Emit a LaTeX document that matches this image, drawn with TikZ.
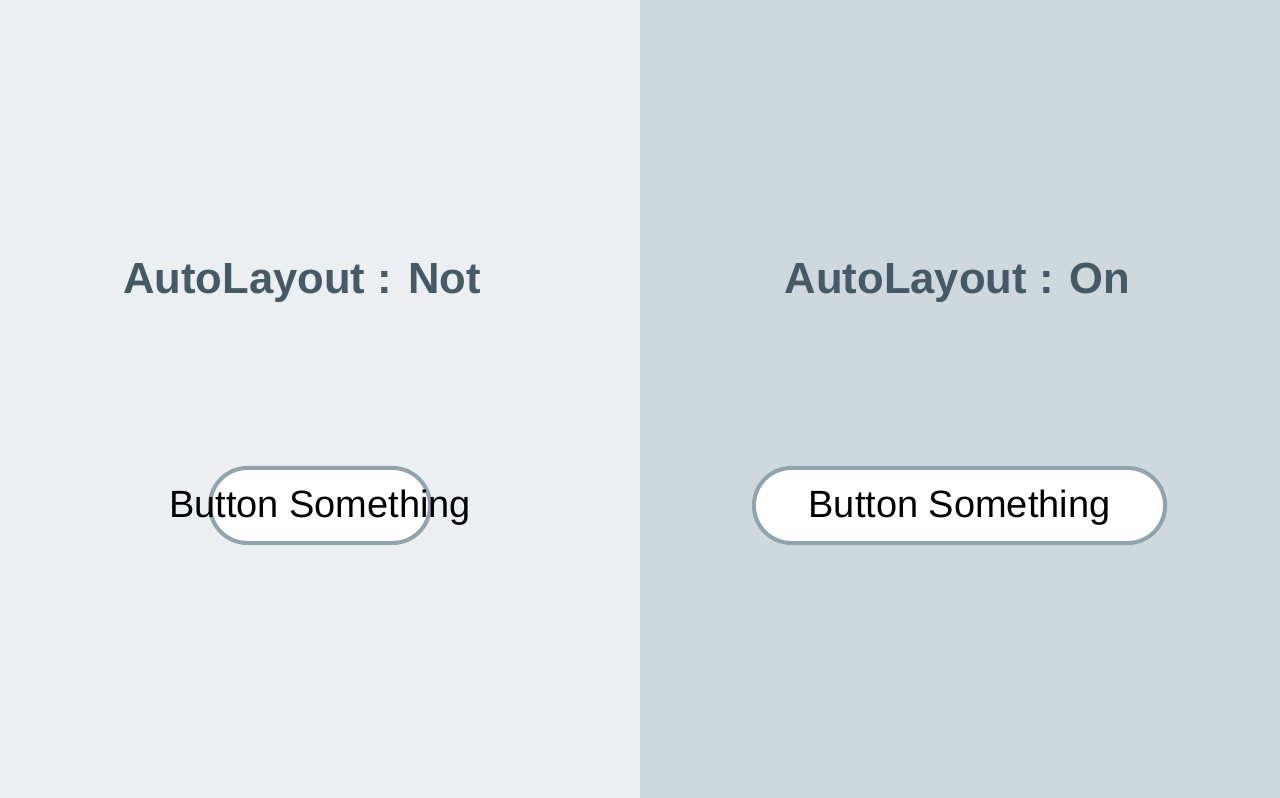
\documentclass[tikz,border=0pt]{standalone}
\usepackage{fontspec}
\setmainfont{Liberation Sans}
\definecolor{leftbg}{HTML}{ECEFF1}
\definecolor{rightbg}{HTML}{CFD8DC}
\definecolor{titlegrey}{HTML}{455A64}
\definecolor{pillline}{HTML}{90A4AE}
\tikzset{
  heading/.style={anchor=base,text=titlegrey,font=\fontsize{12.4}{14}\selectfont\bfseries,inner sep=0pt},
  pill/.style={draw=pillline,fill=white,line width=0.04cm,rounded corners=0.375cm,minimum height=0.75cm,inner sep=0pt},
  label/.style={anchor=base,font=\fontsize{10.8}{12}\selectfont,inner sep=0pt}
}
\begin{document}
\begin{tikzpicture}[x=0.01cm,y=-0.01cm]
        % the two halves
        \fill[leftbg] (0,0) rectangle (640,798);
        \fill[rightbg] (640,0) rectangle (1280,798);
        \useasboundingbox (0,0) rectangle (1280,798);
        %% left: no autolayout
        \node[heading] (titleNot) at (302,294) {AutoLayout : Not};
        \node[pill,minimum width=2.2cm] (btnNot) at (320,505.5) {};
        \node[label] (txtNot) at (320,518) {Button Something};
        %% right: autolayout on
        \node[heading] (titleOn) at (957.5,294) {AutoLayout : On};
        \node[pill,minimum width=4.11cm] (btnOn) at (959.5,505.5) {};
        \node[label] (txtOn) at (959.5,518) {Button Something};
      \end{tikzpicture}
\end{document}
